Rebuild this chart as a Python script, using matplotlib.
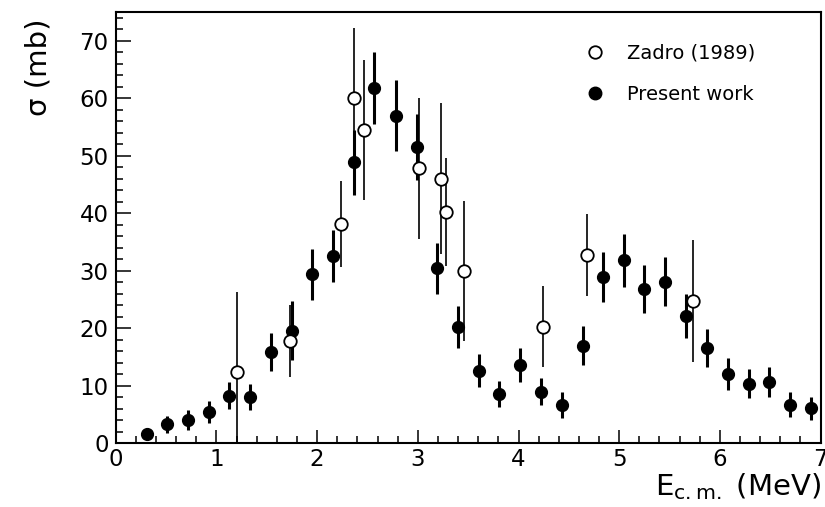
import matplotlib
matplotlib.use("Agg")
import matplotlib.pyplot as plt
from matplotlib.lines import Line2D
from matplotlib.ticker import MultipleLocator

plt.rcParams['font.family'] = ['DejaVu Sans']
plt.rcParams['mathtext.fontset'] = 'dejavusans'

# Present work (filled circles)
present_E = [0.308, 0.506, 0.714, 0.926, 1.127, 1.332, 1.543, 1.749, 1.954, 2.159,
             2.367, 2.566, 2.780, 2.989, 3.190, 3.396, 3.604, 3.810, 4.018, 4.222,
             4.430, 4.636, 4.844, 5.043, 5.251, 5.459, 5.668, 5.869, 6.077, 6.286,
             6.491, 6.699, 6.905]
present_sigma = [1.6, 3.3, 4.05, 5.45, 8.3, 8.1, 15.9, 19.6, 29.4, 32.6,
                 48.9, 61.8, 57.0, 51.5, 30.4, 20.2, 12.6, 8.6, 13.6, 9.0,
                 6.7, 17.0, 28.9, 31.8, 26.8, 28.1, 22.1, 16.5, 12.0, 10.4,
                 10.7, 6.7, 6.1]
present_err = [0.5, 1.45, 1.7, 1.9, 2.3, 2.3, 3.25, 5.1, 4.4, 4.5,
               5.65, 6.3, 6.1, 5.75, 4.45, 3.6, 2.85, 2.3, 2.95, 2.4,
               2.3, 3.4, 4.3, 4.55, 4.2, 4.25, 3.8, 3.3, 2.75, 2.6,
               2.65, 2.15, 2.0]

# Zadro (1989) (open circles)
zadro_E = [1.206, 1.736, 2.238, 2.364, 2.463, 3.012, 3.227, 3.280, 3.462, 4.246, 4.676, 5.736]
zadro_sigma = [12.4, 17.8, 38.1, 60.0, 54.5, 47.8, 46.0, 40.3, 30.0, 20.3, 32.8, 24.7]
zadro_err = [14.0, 6.3, 7.5, 12.2, 12.2, 12.2, 13.1, 9.4, 12.2, 7.0, 7.1, 10.6]

label_zadro = "Zadro (1989)"
label_present = "Present work"

fig = plt.figure(figsize=(8.25, 5.07), dpi=100)
ax = fig.add_axes([0.1402, 0.1256, 0.8545, 0.8507])

ax.errorbar(present_E, present_sigma, yerr=present_err, fmt='o', color='black',
            ms=8.5, elinewidth=2.2, capsize=0, zorder=3)
ax.errorbar(zadro_E, zadro_sigma, yerr=zadro_err, fmt='o', color='black',
            mfc='white', mec='black', mew=1.3, ms=9, elinewidth=1.2, capsize=0, zorder=4)

ax.set_xlim(0, 7)
ax.set_ylim(0, 75)
ax.xaxis.set_major_locator(MultipleLocator(1))
ax.xaxis.set_minor_locator(MultipleLocator(0.2))
ax.yaxis.set_major_locator(MultipleLocator(10))
ax.yaxis.set_minor_locator(MultipleLocator(2))
ax.set_yticks([0, 10, 20, 30, 40, 50, 60, 70])

for s in ax.spines.values():
    s.set_linewidth(1.5)
ax.tick_params(axis='both', which='both', direction='in', top=False, right=False, width=1.1)
ax.tick_params(axis='y', which='major', length=10.8, labelsize=16.5, pad=5)
ax.tick_params(axis='y', which='minor', length=5)
ax.tick_params(axis='x', which='major', length=9.4, labelsize=16.5, pad=3.5)
ax.tick_params(axis='x', which='minor', length=5.4)

ax.set_ylabel('σ (mb)', fontsize=21, loc='top')
ax.yaxis.set_label_coords(-0.09, 0.985)
ax.set_xlabel(r'E$_{\mathregular{c.m.}}$ (MeV)', fontsize=21, loc='right')
ax.xaxis.set_label_coords(1.0, -0.065)

handles = [Line2D([], [], marker='o', ls='none', mfc='white', mec='black', mew=1.3, ms=9),
           Line2D([], [], marker='o', ls='none', color='black', ms=9)]
ax.legend(handles, [label_zadro, label_present], loc='upper left',
          bbox_to_anchor=(0.655, 0.945), frameon=False, fontsize=14,
          handlelength=1.0, handletextpad=1.15, labelspacing=1.15, borderaxespad=0)

fig.savefig('out.png', dpi=100)
